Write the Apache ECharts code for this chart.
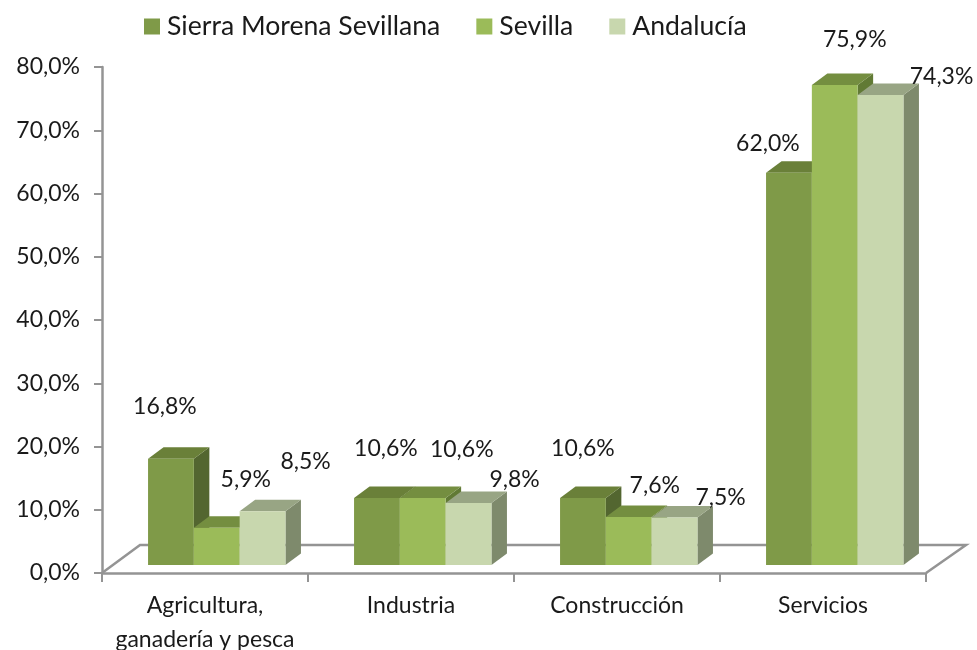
<!DOCTYPE html>
<html>
<head>
<meta charset="utf-8">
<style>
  html, body { margin: 0; padding: 0; background: #fff; }
  #chart { width: 977px; height: 650px; }
</style>
<script src="https://cdn.jsdelivr.net/npm/echarts@6/dist/echarts.min.js"></script>
</head>
<body>
<div id="chart"></div>
<script>
const categories = ['Agricultura,\nganadería y pesca', 'Industria', 'Construcción', 'Servicios']
const sierra = [16.8, 10.6, 10.6, 62.0]
const sevilla = [5.9, 10.6, 7.6, 75.9]
const andalucia = [8.5, 9.8, 7.5, 74.3]

// where the labels were dragged to in the original, relative to the bar top
const sierraLabelOffset = [[-6, -52], [9, -49], [0, -49], [-21, -29]]
const sevillaLabelOffset = [[29, -48], [39, -48], [26, -31], [20, -45]]
const andaluciaLabelOffset = [[43, -50], [46, -23], [46, -20], [61, -18]]

const fontFamily = 'Lato, "Liberation Sans", sans-serif'
const axisColor = '#949494'
const barWidth = 45.8
const depthX = 15.5
const depthY = -11.5
const baseShiftX = 11.75
const baseShiftY = -8

const fmt = (v) => v.toFixed(1).replace('.', ',') + '%'

const barSeries = (name, values, offsets, slot, colors) => ({
  name,
  type: 'custom',
  silent: true,
  itemStyle: { color: colors.front },
  encode: { x: 0, y: 1 },
  data: values.map((v, i) => [i, v]),
  renderItem(params, api) {
    const i = api.value(0)
    const top = api.coord([i, api.value(1)])
    const bottom = api.coord([i, 0])
    const x0 = top[0] + baseShiftX + (slot - 1.5) * barWidth
    const x1 = x0 + barWidth
    const y0 = top[1] + baseShiftY
    const y1 = bottom[1] + baseShiftY
    const off = offsets[i]
    return {
      type: 'group',
      children: [
        {
          type: 'polygon',
          shape: { points: [[x1, y0], [x1 + depthX, y0 + depthY], [x1 + depthX, y1 + depthY], [x1, y1]] },
          style: { fill: colors.side },
        },
        {
          type: 'polygon',
          shape: { points: [[x0, y0], [x0 + depthX, y0 + depthY], [x1 + depthX, y0 + depthY], [x1, y0]] },
          style: { fill: colors.top },
        },
        {
          type: 'rect',
          shape: { x: x0, y: y0, width: barWidth, height: y1 - y0 },
          style: { fill: colors.front },
        },
        {
          type: 'text',
          z2: 10,
          style: {
            x: (x0 + x1) / 2 + off[0],
            y: y0 + off[1],
            text: fmt(api.value(1)),
            textAlign: 'center',
            textVerticalAlign: 'middle',
            font: '23px ' + fontFamily,
            fill: '#1a1a1a',
          },
        },
      ],
    }
  },
})

const floorSeries = {
  type: 'custom',
  silent: true,
  z: 1,
  data: [[0, 0]],
  renderItem(params) {
    const { x, y, width, height } = params.coordSys
    const bottom = y + height
    return {
      type: 'polyline',
      shape: { points: [[x, bottom], [x + 38, bottom - 28], [x + width + 40, bottom - 28], [x + width, bottom]] },
      style: { fill: 'none', stroke: axisColor, lineWidth: 2.5 },
    }
  },
}

const chart = echarts.init(document.getElementById('chart'))
chart.setOption({
  animation: false,
  backgroundColor: '#fff',
  legend: {
    left: 144,
    top: 13,
    padding: 0,
    itemWidth: 16,
    itemHeight: 16,
    itemGap: 36,
    icon: 'rect',
    data: ['Sierra Morena Sevillana', 'Sevilla', 'Andalucía'],
    textStyle: { fontFamily, fontSize: 26.6, color: '#1a1a1a', padding: [0, 0, 0, 2] },
  },
  grid: { left: 102, right: 51, top: 67, bottom: 77, outerBoundsMode: 'none' },
  xAxis: {
    type: 'category',
    data: categories,
    axisLine: { lineStyle: { color: axisColor, width: 2.5 } },
    axisTick: { show: true, alignWithLabel: false, length: 9, lineStyle: { color: axisColor, width: 2 } },
    axisLabel: { interval: 0, color: '#1a1a1a', fontFamily, fontSize: 23, margin: 16, lineHeight: 34 },
  },
  yAxis: {
    type: 'value',
    min: 0,
    max: 80,
    interval: 10,
    axisLine: { show: true, lineStyle: { color: axisColor, width: 2.5 } },
    axisTick: { show: true, length: 8, lineStyle: { color: axisColor, width: 2 } },
    axisLabel: { color: '#1a1a1a', fontFamily, fontSize: 23, margin: 22, formatter: fmt },
    splitLine: { show: false },
  },
  series: [
    floorSeries,
    barSeries('Sierra Morena Sevillana', sierra, sierraLabelOffset, 0, { front: '#7f9a48', top: '#6a8039', side: '#536630' }),
    barSeries('Sevilla', sevilla, sevillaLabelOffset, 1, { front: '#9bbb59', top: '#748e40', side: '#617a35' }),
    barSeries('Andalucía', andalucia, andaluciaLabelOffset, 2, { front: '#c8d7ae', top: '#98a584', side: '#7e8a6c' }),
  ],
})
</script>
</body>
</html>
